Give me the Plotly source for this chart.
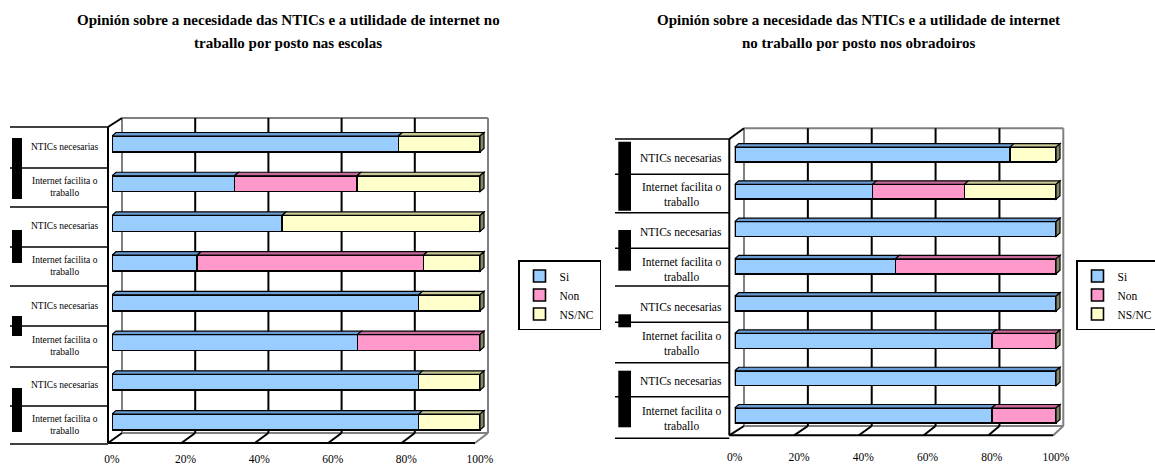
import plotly.graph_objects as go

W, H = 1155, 468

# ---------------- data ----------------
categories = ["NTICs necesarias", "Internet facilita o<br>traballo"] * 4
series_names = ["Si", "Non", "NS/NC"]

escolas_si = [77.8, 33.3, 46.2, 23.1, 83.3, 66.7, 83.3, 83.3]
escolas_non = [0, 33.3, 0, 61.5, 0, 33.3, 0, 0]
escolas_nsnc = [22.2, 33.4, 53.8, 15.4, 16.7, 0, 16.7, 16.7]

obradoiros_si = [85.7, 42.9, 100, 50, 100, 80, 100, 80]
obradoiros_non = [0, 28.6, 0, 50, 0, 20, 0, 20]
obradoiros_nsnc = [14.3, 28.5, 0, 0, 0, 0, 0, 0]

tick_vals = [0, 20, 40, 60, 80, 100]
tick_text = ["0%", "20%", "40%", "60%", "80%", "100%"]

title_escolas = ["Opinión sobre a necesidade das NTICs e a utilidade de internet no",
                 "traballo por posto nas escolas"]
title_obradoiros = ["Opinión sobre a necesidade das NTICs e a utilidade de internet",
                    "no traballo por posto nos obradoiros"]

# ---------------- style ----------------
colors = ["#99CCFF", "#FF99CC", "#FFFFCC"]
top_colors = ["#6A9BD2", "#C8699A", "#C8C896"]
end_color = "#86866A"
FONT = "Liberation Serif"


def px(x):
    return x / W


def py(y):
    return 1 - y / H


charts = [
    dict(name="escolas", data=[escolas_si, escolas_non, escolas_nsnc], xa="x", ya="y", legend="legend",
         bar0=112, bar100=480, ytop=124.1, ybot=441.9,
         back=dict(l=122, r=488, t=118, b=433),
         front=dict(x=108, t=127, b=443, r=475),
         seps=[127, 168, 207, 247, 286, 326, 367, 406, 444], sep_x0=10,
         boxes=[(12, 22, 138, 199), (12, 22, 230, 263), (12, 22, 316, 336), (12, 22, 388, 432)],
         label_x=65, label_size=9.5, title=title_escolas, title_x=288,
         legend_x=518, standoff=9),
    dict(name="obradoiros", data=[obradoiros_si, obradoiros_non, obradoiros_nsnc], xa="x2", ya="y2",
         legend="legend2",
         bar0=734.7, bar100=1056, ytop=135.9, ybot=434.1,
         back=dict(l=744, r=1063.3, t=128.3, b=426),
         front=dict(x=729.3, t=139, b=435.3, r=1053.3),
         seps=[139, 174.3, 212.7, 248.3, 286, 322.3, 362.7, 396.7, 438.3], sep_x0=615,
         boxes=[(618.3, 631, 141.7, 210.7), (618.3, 631, 230, 270.7), (618.3, 631, 314.3, 327.3),
                (618.3, 631, 370.7, 427.3)],
         label_x=681, label_size=11.5, title=title_obradoiros, title_x=858,
         legend_x=1076, standoff=14),
]

fig = go.Figure()
shapes = []
annotations = []
XMAX = 104
BAR_W = 0.4

for c in charts:
    n = len(categories)
    ys = list(range(n))
    for s, name in enumerate(series_names):
        fig.add_trace(go.Bar(
            x=c["data"][s], y=ys, orientation="h", name=name,
            marker=dict(color=colors[s], line=dict(color="black", width=1.6)),
            width=BAR_W, xaxis=c["xa"], yaxis=c["ya"], legend=c["legend"],
            hovertemplate="%{x}%<extra>" + name + "</extra>",
        ))

    # 3D faces on bars (from data)
    ppu_x = (c["bar100"] - c["bar0"]) / 100.0
    ppu_y = (c["ybot"] - c["ytop"]) / n
    dx = 4.0 / ppu_x
    dy = 3.5 / ppu_y
    for i in range(n):
        cum = 0.0
        ytp = i - BAR_W / 2
        ybt = i + BAR_W / 2
        for s in range(len(series_names)):
            v = c["data"][s][i]
            if v > 0:
                l, r = cum, cum + v
                shapes.append(dict(
                    type="path", xref=c["xa"], yref=c["ya"], layer="above",
                    path=f"M{l},{ytp} L{r},{ytp} L{r+dx},{ytp-dy} L{l+dx},{ytp-dy} Z",
                    fillcolor=top_colors[s], line=dict(color="black", width=1.2)))
            cum += v
        shapes.append(dict(
            type="path", xref=c["xa"], yref=c["ya"], layer="above",
            path=f"M{cum},{ytp} L{cum+dx},{ytp-dy} L{cum+dx},{ybt-dy} L{cum},{ybt} Z",
            fillcolor=end_color, line=dict(color="black", width=1.2)))

    # frame (pixel geometry)
    b = c["back"]
    f = c["front"]
    gray = "#808080"

    def line(x0, y0, x1, y1, color="black", width=2, layer="below"):
        shapes.append(dict(type="line", xref="paper", yref="paper", layer=layer,
                           x0=px(x0), y0=py(y0), x1=px(x1), y1=py(y1),
                           line=dict(color=color, width=width)))

    # back wall outline
    line(b["l"], b["t"], b["r"], b["t"], gray, 2)
    line(b["l"], b["t"], b["l"], b["b"], gray, 2)
    line(b["r"], b["t"], b["r"], b["b"], gray, 2)
    line(b["l"], b["b"], b["r"], b["b"], gray, 2)
    # back gridlines and floor ticks
    for k in range(1, 5):
        gx = b["l"] + k * (b["r"] - b["l"]) / 5
        line(gx, b["t"], gx, b["b"], "black", 2)
    for k in range(0, 6):
        gx = b["l"] + k * (b["r"] - b["l"]) / 5
        fx = f["x"] + k * (f["r"] - f["x"]) / 5
        line(fx, f["b"], gx, b["b"], "black" if k < 5 else gray, 2)
    # front axis
    line(f["x"], f["t"], f["x"], f["b"], "black", 2, "above")
    line(f["x"], f["b"], f["r"], f["b"], "black", 2, "above")
    line(f["x"], f["t"], b["l"], b["t"], "black", 2, "above")
    # category separators
    for sy in c["seps"]:
        line(c["sep_x0"], sy, f["x"], sy, "black", 1.5, "above")
    # black group blocks
    for (x0, x1, y0, y1) in c["boxes"]:
        shapes.append(dict(type="rect", xref="paper", yref="paper", layer="above",
                           x0=px(x0), x1=px(x1), y0=py(y1), y1=py(y0),
                           fillcolor="black", line=dict(width=0)))

    # category labels
    for i, lab in enumerate(categories):
        annotations.append(dict(text=lab, x=px(c["label_x"]), xref="paper", y=i, yref=c["ya"],
                                xanchor="center", yanchor="middle", showarrow=False, yshift=-3,
                                font=dict(family=FONT, size=c["label_size"], color="black")))
    # titles
    for j, t in enumerate(c["title"]):
        annotations.append(dict(text=f"<b>{t}</b>", x=px(c["title_x"]), xref="paper",
                                y=py(20 + 23 * j), yref="paper", xanchor="center", yanchor="middle",
                                showarrow=False, font=dict(family=FONT, size=15, color="black")))

axis_common = dict(showgrid=False, zeroline=False, showline=False, fixedrange=True)
layout = dict(
    width=W, height=H,
    margin=dict(l=0, r=0, t=0, b=0, autoexpand=False),
    paper_bgcolor="white", plot_bgcolor="rgba(0,0,0,0)",
    barmode="stack", bargap=0.6,
    showlegend=True,
    shapes=shapes, annotations=annotations,
    font=dict(family=FONT, color="black"),
)
for c in charts:
    xk = "xaxis" if c["xa"] == "x" else "xaxis2"
    yk = "yaxis" if c["ya"] == "y" else "yaxis2"
    right_px = c["bar0"] + (c["bar100"] - c["bar0"]) * XMAX / 100
    layout[xk] = dict(axis_common, domain=[px(c["bar0"]), px(right_px)], range=[0, XMAX],
                      tickvals=tick_vals, ticktext=tick_text, ticks="", ticklabelstandoff=c["standoff"],
                      tickfont=dict(family=FONT, size=11.5, color="black"),
                      anchor=c["ya"])
    layout[yk] = dict(axis_common, domain=[py(c["ybot"]), py(c["ytop"])],
                      range=[len(categories) - 0.5, -0.5], showticklabels=False,
                      anchor=c["xa"])
    layout[c["legend"]] = dict(x=px(c["legend_x"]), y=py(260), xanchor="left", yanchor="top",
                               bgcolor="white", bordercolor="black", borderwidth=1.5,
                               font=dict(family=FONT, size=11.5, color="black"),
                               tracegroupgap=0, traceorder="normal", itemwidth=30)

fig.update_layout(**layout)
fig.write_html("out.html", config={"displayModeBar": False},
               post_script="document.body.style.margin='0';document.body.style.overflow='hidden';")
